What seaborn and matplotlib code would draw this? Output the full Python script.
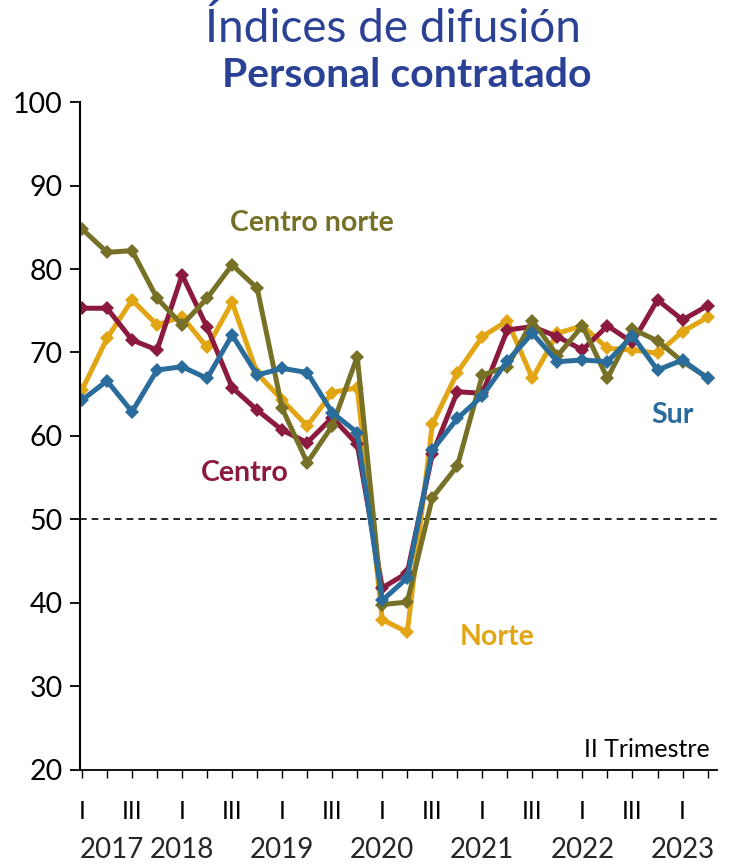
"""
Diffusion indices of hired staff by region, quarterly 2017-I to 2023-II
"""

import pandas as pd
import matplotlib.pyplot as plt
import matplotlib.transforms as mtransforms
import seaborn as sns

years = ["2017", "2018", "2019", "2020", "2021", "2022", "2023"]
quarters = ["I", "II", "III", "IV"] * 6 + ["I", "II"]

centro_norte = [84.8, 82.0, 82.2, 76.5, 73.3, 76.5, 80.5, 77.7, 63.3, 56.8, 61.2, 69.5, 39.8,
                40.1, 52.6, 56.4, 67.3, 68.3, 73.8, 69.6, 73.2, 66.9, 72.8, 71.4, 68.9, 67.0]
centro = [75.3, 75.3, 71.5, 70.3, 79.3, 73.0, 65.8, 63.1, 60.7, 59.2, 62.2, 59.0, 41.8,
          43.6, 57.8, 65.3, 65.1, 72.7, 73.1, 71.9, 70.3, 73.2, 71.2, 76.3, 73.9, 75.6]
norte = [65.5, 71.7, 76.3, 73.3, 74.3, 70.6, 76.0, 67.5, 64.3, 61.2, 65.2, 65.8, 38.0,
         36.5, 61.4, 67.6, 71.9, 73.8, 66.9, 72.3, 73.2, 70.5, 70.3, 69.9, 72.5, 74.2]
sur = [64.3, 66.6, 62.9, 67.9, 68.3, 66.9, 72.1, 67.3, 68.1, 67.6, 62.8, 60.4, 40.3,
       43.0, 58.3, 62.1, 64.8, 69.0, 72.3, 68.9, 69.1, 68.9, 72.0, 67.9, 69.1, 66.9]

series = {"Norte": norte, "Centro": centro, "Centro norte": centro_norte, "Sur": sur}
colors = {"Norte": "#E2A614", "Centro": "#8C1A3E", "Centro norte": "#767127", "Sur": "#2A6C9B"}
# label positions (x index, y value)
label_pos = {"Centro norte": (9.2, 85.5), "Centro": (6.5, 55.6), "Norte": (16.6, 35.9), "Sur": (23.6, 62.5)}

sns.set_style("ticks")
plt.rcParams["font.family"] = ["Lato", "DejaVu Sans"]

fig = plt.figure(figsize=(7.3, 8.65), dpi=100)
ax = fig.add_axes([0.1096, 0.110, 0.872, 0.772])

for name, vals in series.items():
    df = pd.DataFrame({"t": range(len(vals)), "v": vals})
    sns.lineplot(data=df, x="t", y="v", ax=ax, color=colors[name], linewidth=3.6,
                 marker="D", markersize=7.5, markeredgewidth=0)
    lx, ly = label_pos[name]
    ax.text(lx, ly, name, color=colors[name], fontsize=20.5, fontweight="bold",
            ha="center", va="center")

ax.axhline(50, color="black", linestyle=(0, (4, 3)), linewidth=1.2, zorder=0)

ax.set_xlim(-0.08, 25.36)
ax.set_ylim(20, 100)
ax.set_yticks(range(20, 101, 10))
ax.set_xticks(range(len(quarters)))
ax.set_xticklabels([q if q in ("I", "III") else "" for q in quarters])
ax.tick_params(axis="y", labelsize=20.5, length=7.5, width=1.3, pad=5, colors="black")
ax.tick_params(axis="x", labelsize=18, length=5.5, width=1.0, pad=16, colors="black")
ax.set_xlabel("")
ax.set_ylabel("")
sns.despine(ax=ax)
for s in ("left", "bottom"):
    ax.spines[s].set_color("black")
ax.spines["left"].set_linewidth(1.5)
ax.spines["bottom"].set_linewidth(1.3)

trans = mtransforms.blended_transform_factory(ax.transData, ax.transAxes)
for k, y in enumerate(years):
    if k == 0:
        ax.text(-0.08, -0.12, y, transform=trans, fontsize=20, ha="left", va="center")
    else:
        ax.text(k * 4, -0.12, y, transform=trans, fontsize=20, ha="center", va="center")

ax.text(0.99, 0.03, "II Trimestre", transform=ax.transAxes, fontsize=18,
        ha="right", va="center", color="black")

fig.text(0.538, 0.967, "Índices de difusión", fontsize=33, color="#2B4196",
         ha="center", va="center", fontweight="normal")
fig.text(0.557, 0.913, "Personal contratado", fontsize=29.5, color="#2B4196",
         ha="center", va="center", fontweight="bold")

plt.savefig("out.png", dpi=100)
